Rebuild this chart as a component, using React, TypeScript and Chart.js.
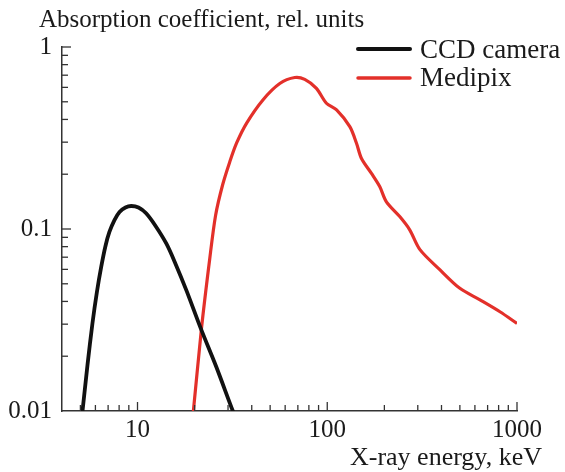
import React, { useEffect, useRef } from "react";
import { Chart, registerables } from "chart.js";

Chart.register(...registerables);

// ---- Data ----
const CCD_ENERGY = [5.0, 5.13, 5.45, 5.79, 6.11, 6.44, 6.78, 7.11, 7.56, 8.04, 8.64, 9.27, 10.12, 11.1, 12.45, 14.2, 15.87, 18.1, 21.7, 26.0, 31.8, 33.5];
const CCD_ABS = [0.008, 0.01, 0.0179, 0.0304, 0.0451, 0.0621, 0.0807, 0.0963, 0.112, 0.124, 0.1313, 0.1338, 0.1313, 0.122, 0.1039, 0.083, 0.0643, 0.046, 0.0279, 0.0175, 0.01, 0.0088];

const MEDIPIX_ENERGY = [19.3, 19.7, 21.7, 24.0, 25.8, 28.1, 30.6, 33.3, 37.6, 45.8, 56.2, 67.4, 76.1, 87.7, 99, 112, 131.5, 142.6, 151.5, 171, 189, 205, 241, 272, 308, 393, 500, 638, 813, 1000];
const MEDIPIX_ABS = [0.0085, 0.01, 0.028, 0.068, 0.119, 0.175, 0.233, 0.297, 0.382, 0.512, 0.63, 0.68, 0.664, 0.593, 0.491, 0.451, 0.365, 0.296, 0.244, 0.202, 0.171, 0.141, 0.117, 0.099, 0.077, 0.0596, 0.0472, 0.0408, 0.0351, 0.0303];

const X_TICKS = [10, 100, 1000];
const Y_TICKS = [0.01, 0.1, 1];
const X_MIN = 4;
const X_MAX = 1000;
const Y_MIN = 0.01;
const Y_MAX = 1;

const SERIES_NAMES = ["CCD camera", "Medipix"];
const SERIES_COLORS = ["#111111", "#e3302a"];
const Y_TITLE = "Absorption coefficient, rel. units";
const X_TITLE = "X-ray energy, keV";

const FONT = '"Liberation Serif", "Times New Roman", serif';
const TEXT_COLOR = "#1a1a1a";
const AXIS_COLOR = "#333333";

const decorPlugin = {
  id: "decor",
  afterDraw(chart: any) {
    const ctx = chart.ctx;
    const xs = chart.scales.x;
    const ys = chart.scales.y;
    const area = chart.chartArea;
    ctx.save();
    ctx.strokeStyle = AXIS_COLOR;
    ctx.lineWidth = 1.3;
    // inward tick marks on x axis
    for (let d = 1; d <= 1000; d *= 10) {
      for (let k = 1; k <= 9; k++) {
        const v = d * k;
        if (v <= X_MIN || v > X_MAX) continue;
        const px = xs.getPixelForValue(v);
        const len = k === 1 ? 9 : 6;
        ctx.beginPath();
        ctx.moveTo(px, area.bottom);
        ctx.lineTo(px, area.bottom - len);
        ctx.stroke();
      }
    }
    // inward tick marks on y axis
    for (let d = 0.01; d <= 1.0001; d *= 10) {
      for (let k = 1; k <= 9; k++) {
        const v = d * k;
        if (v < Y_MIN * 1.0001 || v > Y_MAX * 1.0001) continue;
        const py = ys.getPixelForValue(v);
        const len = k === 1 ? 9 : 6;
        ctx.beginPath();
        ctx.moveTo(area.left, py);
        ctx.lineTo(area.left + len, py);
        ctx.stroke();
      }
    }
    // titles
    ctx.fillStyle = TEXT_COLOR;
    ctx.textBaseline = "alphabetic";
    ctx.textAlign = "left";
    ctx.font = `25px ${FONT}`;
    ctx.fillText(Y_TITLE, 39, 27);
    ctx.textAlign = "right";
    ctx.font = `26px ${FONT}`;
    ctx.fillText(X_TITLE, 542, 465);
    // legend
    const rows = [
      { y: 49, base: 58, w: 4 },
      { y: 78, base: 86, w: 3.5 },
    ];
    ctx.textAlign = "left";
    ctx.font = `27px ${FONT}`;
    rows.forEach((r, i) => {
      ctx.strokeStyle = SERIES_COLORS[i];
      ctx.lineWidth = r.w;
      ctx.lineCap = "round";
      ctx.beginPath();
      ctx.moveTo(358, r.y);
      ctx.lineTo(410, r.y);
      ctx.stroke();
      ctx.fillText(SERIES_NAMES[i], 420, r.base);
    });
    ctx.restore();
  },
};

export default function App() {
  const ref = useRef<HTMLCanvasElement | null>(null);
  useEffect(() => {
    if (!ref.current) return;
    const chart = new Chart(ref.current, {
      type: "line",
      data: {
        datasets: [
          {
            label: SERIES_NAMES[0],
            data: CCD_ENERGY.map((e, i) => ({ x: e, y: CCD_ABS[i] })),
            borderColor: SERIES_COLORS[0],
            borderWidth: 3.8,
            pointRadius: 0,
            tension: 0.3,
            fill: false,
            clip: 0,
          },
          {
            label: SERIES_NAMES[1],
            data: MEDIPIX_ENERGY.map((e, i) => ({ x: e, y: MEDIPIX_ABS[i] })),
            borderColor: SERIES_COLORS[1],
            borderWidth: 3.2,
            pointRadius: 0,
            tension: 0.3,
            fill: false,
            clip: 0,
          },
        ],
      },
      options: {
        animation: false,
        responsive: false,
        devicePixelRatio: 1,
        layout: { padding: { top: 47, right: 48, left: 0, bottom: 0 } },
        plugins: {
          legend: { display: false },
          title: { display: false },
          tooltip: { enabled: false },
        },
        scales: {
          x: {
            type: "logarithmic",
            min: X_MIN,
            max: X_MAX,
            afterBuildTicks: (s: any) => {
              s.ticks = X_TICKS.map((v) => ({ value: v }));
            },
            afterFit: (s: any) => {
              s.height = 61;
            },
            ticks: {
              autoSkip: false,
              maxRotation: 0,
              padding: 4,
              color: TEXT_COLOR,
              font: { family: FONT, size: 25 },
              callback: (v: any) => String(v),
            },
            grid: { display: false, drawTicks: false },
            border: { display: true, color: AXIS_COLOR, width: 1.5 },
          },
          y: {
            type: "logarithmic",
            min: Y_MIN,
            max: Y_MAX,
            afterBuildTicks: (s: any) => {
              s.ticks = Y_TICKS.map((v) => ({ value: v }));
            },
            afterFit: (s: any) => {
              s.width = 62;
            },
            ticks: {
              autoSkip: false,
              padding: 10,
              color: TEXT_COLOR,
              font: { family: FONT, size: 25 },
              callback: (v: any) => String(v),
            },
            grid: { display: false, drawTicks: false },
            border: { display: true, color: AXIS_COLOR, width: 1.5 },
          },
        },
      },
      plugins: [decorPlugin],
    } as any);
    return () => chart.destroy();
  }, []);
  return (
    <div style={{ position: "absolute", left: 0, top: 0, width: 565, height: 472, background: "#fff" }}>
      <canvas ref={ref} width={565} height={472} />
    </div>
  );
}
